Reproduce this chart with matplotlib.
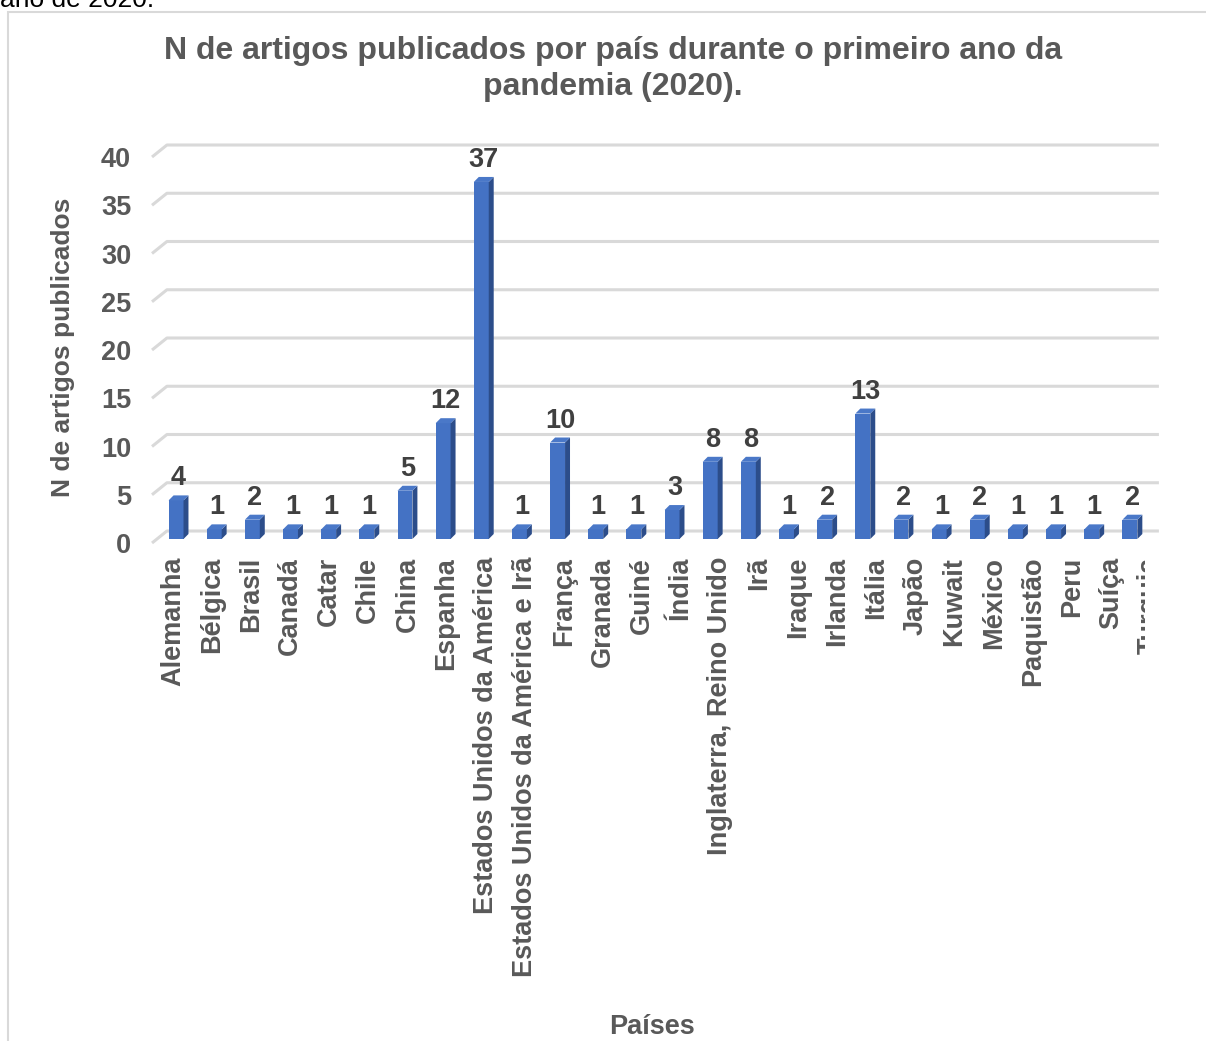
import matplotlib
matplotlib.use('Agg')
import numpy as np
import matplotlib.pyplot as plt
from matplotlib.patches import Polygon, Rectangle
from matplotlib.transforms import Bbox

plt.rcParams['font.family'] = ['Liberation Sans', 'DejaVu Sans']

paises = ['Alemanha', 'Bélgica', 'Brasil', 'Canadá', 'Catar', 'Chile', 'China',
          'Espanha', 'Estados Unidos da América', 'Estados Unidos da América e Irã',
          'França', 'Granada', 'Guiné', 'Índia', 'Inglaterra, Reino Unido', 'Irã',
          'Iraque', 'Irlanda', 'Itália', 'Japão', 'Kuwait', 'México', 'Paquistão',
          'Peru', 'Suíça', 'Turquia']
artigos = [4, 1, 2, 1, 1, 1, 5, 12, 37, 1, 10, 1, 1, 3, 8, 8, 1, 2, 13, 2, 1, 2, 1, 1, 1, 2]
y_ticks = [0, 5, 10, 15, 20, 25, 30, 35, 40]

W, H = 1206, 1041
FRONT = '#4472C4'
SIDE = '#2C4D8A'
TOP = '#4A78C8'
GRID = '#D9D9D9'
TXT = '#595959'
FS = 19.5

fig = plt.figure(figsize=(W / 100, H / 100), dpi=100)
ax_l, ax_r, ax_t, ax_b = 152, 1150, 157, 543
ax = fig.add_axes([ax_l / W, 1 - ax_b / H, (ax_r - ax_l) / W, (ax_b - ax_t) / H])
n = len(paises)
ax.set_xlim(-0.5, n - 0.5)
ax.set_ylim(0, 40)

# pixel -> data unit factors
kx = n / (ax_r - ax_l)
ky = 40 / (ax_b - ax_t)

# back wall gridlines with a short floor diagonal on the left
gdx, gdy = 15 * kx, 12 * ky
for v in y_ticks:
    ax.plot([-0.5, -0.5 + gdx, n - 0.5 + gdx], [v, v + gdy, v + gdy],
            color=GRID, lw=2.2, clip_on=False, zorder=1, solid_capstyle='butt')

# 3D-looking bars: front face + side + top
x = np.arange(n)
bx = x + 5 * kx
bw = 15 * kx
base = 4 * ky
ddx, ddy = 5 * kx, 5 * ky
ax.bar(bx, artigos, width=bw, bottom=base, color=FRONT, zorder=3, clip_on=False)
for xi, v in zip(bx, artigos):
    xl, xr, top = xi - bw / 2, xi + bw / 2, base + v
    ax.add_patch(Polygon([(xr, base), (xr + ddx, base + ddy), (xr + ddx, top + ddy), (xr, top)],
                         closed=True, fc=SIDE, ec='none', zorder=3, clip_on=False))
    ax.add_patch(Polygon([(xl, top), (xr, top), (xr + ddx, top + ddy), (xl + ddx, top + ddy)],
                         closed=True, fc=TOP, ec='none', zorder=3, clip_on=False))
    ax.text(xi + ddx / 2, top + ddy + 4 * ky, str(v), ha='center', va='bottom',
            fontsize=FS, fontweight='bold', color='#404040', zorder=4)

for s in ax.spines.values():
    s.set_visible(False)
ax.set_yticks(y_ticks)
ax.set_yticklabels([str(t) for t in y_ticks], fontsize=FS, fontweight='bold', color=TXT)
ax.tick_params(axis='y', length=0, pad=15)
ax.set_xticks(0.047 + x * 1.0244)
ax.set_xticklabels(paises, rotation=90, fontsize=FS, fontweight='bold', color=TXT)
ax.tick_params(axis='x', length=0, pad=10)
# last category label is cut by the plot edge
clip = Bbox([[0, 0], [1145, H]])
for lab in ax.get_xticklabels():
    lab.set_clip_box(clip)
    lab.set_clip_on(True)

fig.text(613 / W, 1 - 69 / H,
         'N de artigos publicados por país durante o primeiro ano da\npandemia (2020).',
         ha='center', va='center', fontsize=23, fontweight='bold', color=TXT, linespacing=1.3)
fig.text(63 / W, 1 - 347 / H, 'N de artigos publicados', rotation=90, ha='center', va='center',
         fontsize=19, fontweight='bold', color=TXT)
fig.text(652 / W, 1 - 1027 / H, 'Países', ha='center', va='center',
         fontsize=FS, fontweight='bold', color=TXT)
fig.text(0, 1 - 7 / H, 'ano de 2020.', ha='left', va='baseline', fontsize=19, color='black')

fig.patches.append(Rectangle((8 / W, -0.1), 2, 1.1 - 12 / H, transform=fig.transFigure,
                             fill=False, ec=GRID, lw=1.5))

fig.savefig('out.png', dpi=100)
